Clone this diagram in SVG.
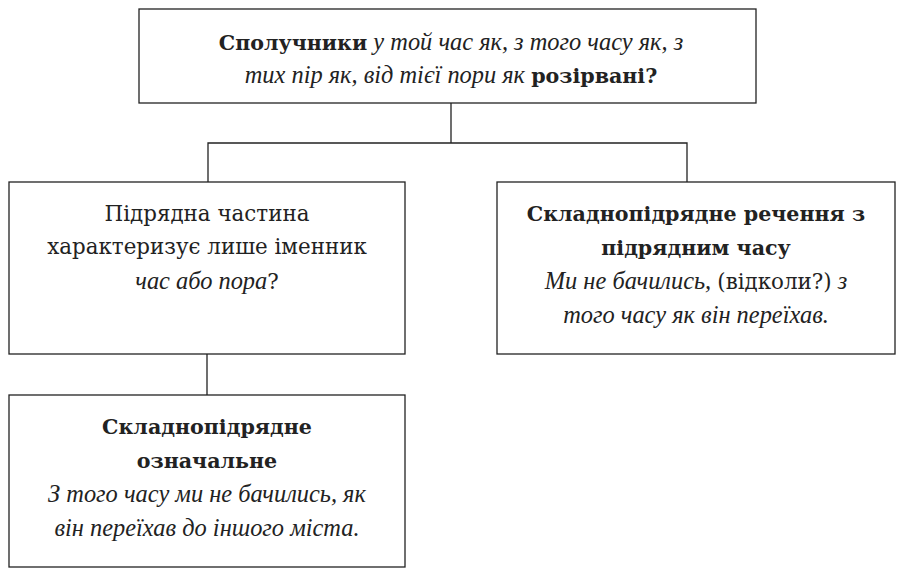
<svg xmlns="http://www.w3.org/2000/svg" width="909" height="583" viewBox="0 0 909 583">
<style>
.box{fill:#fff;stroke:#222;stroke-width:1.3}
.ln{fill:none;stroke:#222;stroke-width:1.3}
text{font-family:"DejaVu Serif","Liberation Serif",serif;font-size:21.4px;fill:#222;text-anchor:middle}
.b{font-weight:bold;font-size:20.6px}
.i{font-style:italic;font-family:"Liberation Serif",serif;font-size:24.4px}
</style>
<rect width="909" height="583" fill="#fff"/>
<g id="connectors">
<path class="ln" d="M451,103 V143 M208,182 V143 H687 V182 M207,354 V395"/>
</g>
<g id="top">
<rect class="box" x="139" y="9" width="617" height="94"/>
<text x="451" y="50"><tspan class="b">Сполучники</tspan><tspan class="i"> у той час як, з того часу як, з</tspan></text>
<text x="451" y="83"><tspan class="i">тих пір як, від тієї пори як </tspan><tspan class="b">розірвані?</tspan></text>
</g>
<g id="left">
<rect class="box" x="9" y="182" width="396" height="172"/>
<text x="207" y="221">Підрядна частина</text>
<text x="207" y="254">характеризує лише іменник</text>
<text x="207" y="289"><tspan class="i">час або пора</tspan>?</text>
</g>
<g id="right">
<rect class="box" x="497" y="182" width="398" height="172"/>
<text x="696" y="221" class="b">Складнопідрядне речення з</text>
<text x="696" y="255" class="b">підрядним часу</text>
<text x="696" y="289"><tspan class="i">Ми не бачились, </tspan>(відколи?)<tspan class="i"> з</tspan></text>
<text x="696" y="323" class="i">того часу як він переїхав.</text>
</g>
<g id="bottom">
<rect class="box" x="9" y="395" width="396" height="172"/>
<text x="207" y="434" class="b">Складнопідрядне</text>
<text x="207" y="468" class="b">означальне</text>
<text x="207" y="502" class="i">З того часу ми не бачились, як</text>
<text x="207" y="536" class="i">він переїхав до іншого міста.</text>
</g>
</svg>
